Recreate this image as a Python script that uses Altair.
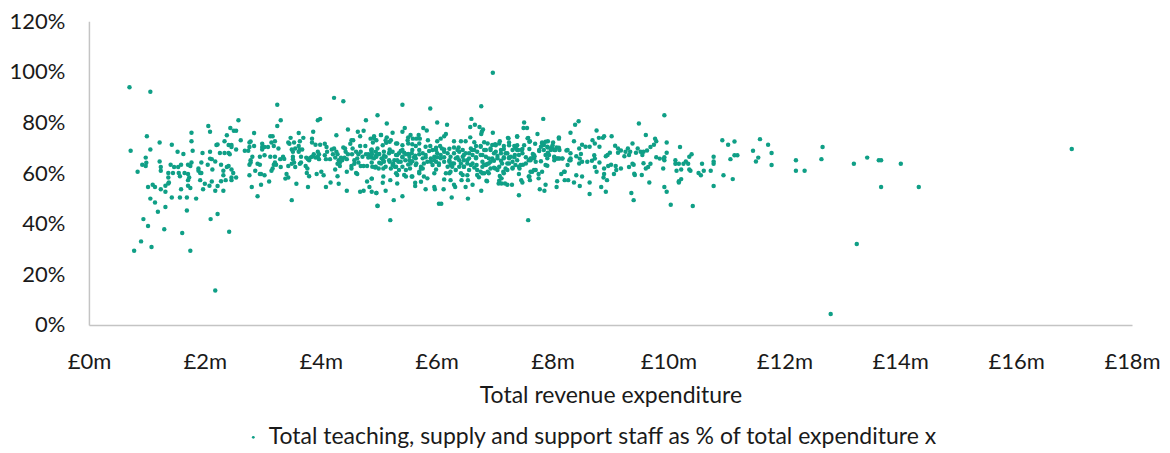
import altair as alt
import pandas as pd

left_points = [(0.70,93.9),(1.06,92.1),(0.72,68.8),(1.00,74.5),(1.06,69.3),(1.22,72.1),(1.43,71.2),(0.98,66.1),(0.99,64.1),(0.92,63.3),(0.98,62.8),(0.84,60.5),(1.22,64.6),(1.24,62.4),(1.24,60.9),(1.41,63.3),(1.47,62.4),(1.37,60),(1.45,60),(1.37,58.2),(1.54,62.4),(1.59,63.3),(1.55,60),(1.57,58.7),(1.53,68.4),(1.63,67.5),(1.77,75.9),(1.77,72.6),(1.79,68.8),(1.77,64.2),(1.71,63.3),(1.75,62.8),(1.65,60),(1.71,59.6),(1.73,58.2),(1.71,57.2),(1.02,54.5),(1.10,55.4),(1.14,54.5),(1.24,53.6),(1.32,52.6),(1.32,55),(1.37,55.9),(1.38,56.3),(1.59,53.6),(1.71,55),(1.75,54.1),(1.06,49.9),(1.14,48.4),(1.32,46.6),(1.43,50.3),(1.57,50.3),(1.69,50.3),(1.85,49.9),(1.69,45.2),(2.06,78.6),(2.09,76.3),(1.96,67.9),(2.09,68.4),(1.94,64.2),(2.09,65.7),(2.12,65.5),(2.18,64.6),(2.05,63.3),(1.89,61.8),(1.89,60.9),(1.94,60),(1.92,60),(2.13,61.4),(2.28,63.3),(2.32,60.9),(2.32,59.1),(2.41,62.8),(2.38,62.4),(2.46,61.4),(2.49,60),(2.46,58.2),(2.54,58.2),(2.46,57.2),(2.36,57.2),(2.28,56.8),(2.12,56.7),(1.92,57.2),(2.0,55.8),(2.08,55),(1.97,53.6),(2.18,53),(2.22,54.9),(2.32,53),(2.2,71.1),(2.22,71.3),(2.34,72.6),(2.38,74.9),(2.44,77.8),(2.50,76.7),(2.54,76.7),(2.58,80.9),(2.62,73),(2.41,71.1),(2.46,71.1),(2.46,70.3),(2.54,69.3),(2.26,67.9),(2.34,67.9),(2.41,67.9),(2.43,67.4)]

low_points = [(1.19,44.7),(2.10,41.8),(2.22,43.8),(0.94,41.8),(1.02,39.1),(1.30,37.8),(1.61,36.3),(2.42,36.8),(0.90,33),(1.08,30.8),(0.78,29.3),(1.75,29.3),(2.18,13.6)]

mid_left_points = [(2.69,68.8),(2.77,72.1),(2.79,72.5),(2.77,70.3),(2.75,68.8),(2.85,70.7),(2.85,75.8),(2.82,66.4),(2.79,65.1),(2.77,63.3),(2.79,64.2),(2.77,59.1),(2.87,60.9),(2.91,63.7),(2.95,63.3),(2.95,59.6),(2.97,59.6),(3.03,59.1),(2.81,54.5),(2.97,55.4),(3.11,56.7),(2.91,50.8),(2.95,66.4),(3.03,67),(2.99,71.6),(2.99,70.3),(2.99,69.3),(3.03,70.3),(3.09,70.3),(3.13,74.5),(3.17,74.5),(3.15,72.1),(3.21,72.6),(3.19,70.7),(3.27,69.7),(3.25,78.6),(3.31,80.9),(3.25,87),(3.13,66.4),(3.21,66.4),(3.30,65.5),(3.35,66.4),(3.37,65.6),(3.21,64.2),(3.19,63.3),(3.23,63.3),(3.31,62.4),(3.17,61.8),(3.15,60.9),(3.44,62.8),(3.41,59.6),(3.44,58.2),(3.39,57.8),(3.58,55.8),(3.50,49.3),(3.48,73.9),(3.44,72.1),(3.46,71.6),(3.54,72.1),(3.62,75.8),(3.70,73.9),(3.64,72.6),(3.50,69.3),(3.56,69.7),(3.62,70.7),(3.64,69.3),(3.68,69.3),(3.52,68.4),(3.62,68.4),(3.52,66.4),(3.52,65.5),(3.66,66.4),(3.54,64.2),(3.5,63.7),(3.56,62.4),(3.64,63.7),(3.66,64.2),(3.74,62.8),(3.77,61.8),(3.76,60),(3.80,58.7),(3.78,54.5),(3.93,59.6),(4.01,60.5),(4.05,59.1),(4.09,54.5),(4.17,56.3),(4.29,58.7),(4.31,55.8),(4.45,53),(4.25,61.4),(4.45,60.5),(4.61,60),(4.63,59.6),(4.80,56.7),(4.88,57.8),(4.84,54.5),(4.88,52.6),(4.96,52.1),(4.68,52.6),(4.74,53),(4.98,47),(3.87,76.3),(3.85,73.6),(3.85,72.1),(3.91,71.2),(3.99,71.2),(4.07,71.6),(4.10,70.3),(3.95,80.9),(3.99,81.4),(4.23,89.7),(4.39,88.4),(4.47,77.2),(4.27,74.9),(4.64,76.3),(4.74,76.7),(4.68,74.5),(4.78,80.9),(4.98,82.8),(4.53,73),(4.56,73),(4.51,71.6),(4.77,70.7),(4.68,70.7),(4.86,73.6),(4.92,74.5),(4.96,73),(4.90,72.1),(3.75,66.1),(3.78,65.5),(3.82,66.1),(3.80,65.1),(3.85,66.4),(3.88,67.4),(3.91,66.1),(3.95,66.4),(3.95,68.4),(3.97,67.4),(3.97,65.5),(4.07,67),(4.09,65.5),(4.16,65.5),(4.11,68.4),(4.19,69.3),(4.23,69.7),(4.27,68.4),(4.21,67.4),(4.29,67.4),(4.25,66.1),(4.35,66.1),(4.41,66.1),(4.45,65.5),(4.31,65.1),(4.33,64.2),(4.37,65.1),(4.33,62.8),(4.29,63.7),(4.39,70.1),(4.42,69.7),(4.43,68.4),(4.47,67.4),(4.55,69.7),(4.61,68.4),(4.54,67.4),(4.65,67.4),(4.69,68.4),(4.78,67.4),(4.82,67.4),(4.88,69.3),(4.88,68.4),(4.95,68.4),(4.96,66.4),(4.88,66.1),(4.82,66.1),(4.72,66.4),(4.63,65.8),(4.58,65.1),(4.65,64.2),(4.58,63.7),(4.53,62.8),(4.53,61.8),(4.69,62.8),(4.74,62.8),(4.80,62.8),(4.88,64.2),(4.94,62.4),(5.0,61.8)]

centre_sparse_points = [(6.97,99.6),(5.41,87),(5.89,85.5),(6.77,86.4),(5.14,79.6),(6.01,80),(6.18,79.1),(6.60,81.4),(6.58,78.2),(6.66,79.1),(6.74,78.2),(6.80,77.2),(6.78,76.3),(6.77,75.4),(6.97,75.9),(7.51,80),(7.50,77.8),(7.56,77.8),(7.84,81.4),(8.39,79.1),(8.45,80.5),(8.31,75.9),(8.76,76.8),(9.49,79.6),(9.93,82.8),(9.61,75),(9.02,74.5),(8.89,74.5),(8.87,73.9),(5.45,77.8),(5.41,76.3),(5.77,77.8),(5.83,76.8),(5.24,75.9),(5.04,75),(5.14,74.1),(5.55,75),(5.51,74.1),(5.59,73.6),(5.69,75),(5.65,73.6),(5.71,73.6),(5.85,73),(6.16,75.4),(6.13,74.5),(6.07,73.6),(6.01,72.6),(6.30,72.6),(6.42,72.6),(6.50,72.6),(6.58,74.1),(7.39,74.5),(7.23,73.9),(7.09,72.6),(7.74,75.4),(7.58,73.9),(7.61,72.6),(8.11,74.1),(8.11,73.6),(7.82,72.1),(7.92,72.6),(8.01,72.1),(8.37,72.6),(8.69,73),(8.80,73.9),(8.73,71.7),(8.81,70.4),(9.77,73.6),(9.79,72.6),(9.97,72.1),(9.75,71.2),(9.69,70.3),(9.38,71.7),(9.08,70.8),(8.51,71.2),(8.57,70.4),(8.64,70.4),(8.46,69.7),(8.24,68.9),(9.13,69.7),(9.18,68.9),(9.30,69.7),(9.47,69.7),(9.26,68.4),(9.34,68.4),(9.13,68),(8.99,68),(8.95,67.1),(8.92,66.6),(9.24,66.6),(9.32,67.1),(9.44,68),(9.52,68.4),(9.57,68.4),(9.63,68.9),(9.97,68),(9.55,67.1),(9.79,66.2),(9.85,65.7),(9.92,65.7),(9.93,66.2),(9.91,61.8),(9.93,54.5),(9.97,52.6),(9.67,56.3),(9.54,59.2),(9.41,59.7),(9.42,59.2),(9.36,52.1),(9.40,49.3),(8.92,52.6),(8.84,54.5),(8.64,51.7),(8.64,56.3),(8.47,54.9),(8.37,56.3),(8.07,54.5),(7.88,55.4),(7.78,53.6),(7.86,53),(7.42,51.2),(7.58,41.4),(5.20,41.4),(4.98,47.1),(5.26,49.3),(5.41,50.8),(5.12,53),(4.96,52.1),(6.04,47.9),(6.08,47.9),(6.26,50.3),(6.54,49.9),(6.77,53),(5.81,53.6),(5.96,54.5),(5.97,53.6),(6.12,53.6),(6.30,55.4),(6.32,54.5),(6.50,54.5),(6.62,55.4),(6.87,56.8),(7.09,58.8),(7.12,57.9),(7.08,57),(7.07,55.9),(7.12,55.9),(7.18,55.9),(7.22,55.4),(7.30,55.4),(7.46,57.2),(7.48,56.3),(7.42,59.6),(7.61,57.2),(7.59,58.6),(7.65,60.5),(7.71,61.2),(7.76,57.9),(7.76,59.6),(7.82,60.5),(8.08,56.8),(8.15,59.6),(8.21,60.5),(8.21,57.2),(8.27,57.2),(8.41,59.1),(8.51,58.6),(8.76,60.5),(8.73,62.4),(8.88,58.2),(8.94,57.2),(8.89,59.6),(8.89,61.8),(8.96,62.8),(9.01,63.3),(9.09,62.8),(9.06,59.6),(9.10,61.2),(9.18,61.8),(9.32,62.4),(9.38,63.7),(9.40,63.3),(9.57,63.9),(9.61,61.8),(9.65,62.4),(9.69,63.7),(8.31,65.1),(8.29,65.1),(8.41,66.6),(8.49,67.5),(8.47,65.7),(8.46,63.8),(8.51,64.5),(8.60,64.5),(8.68,64.9),(8.72,67),(8.73,65.7),(8.81,64.2),(8.08,65.7),(8.12,65.7),(8.17,65.7),(8.03,66.2),(7.91,62.9),(7.80,64.7),(7.88,67.1),(7.92,68),(8.03,69.1),(8.12,69.1),(8.07,70.1),(7.99,70.1),(7.92,70.1),(7.85,71.1),(7.70,71.6),(7.66,67.5),(7.77,68.7),(7.69,66.6),(7.59,65.1),(7.54,66.2),(7.65,65.9),(7.49,63.3),(7.43,61.8),(7.31,61.8),(7.22,61.2),(7.15,60.5),(7.01,61.8),(6.87,63.6)]

dense_band_points = [(4.87,69.1),(4.88,67.5),(4.95,66.7),(5.01,67.5),(5.07,71),(5.13,72),(5.19,72.4),(5.19,69.3),(5.09,66.7),(5.08,65.1),(5.01,64.1),(5.08,61.8),(4.94,62.2),(5.19,64.5),(5.27,65.1),(5.32,67.1),(5.38,68.7),(5.44,68),(5.51,67.5),(5.58,69.1),(5.64,70.7),(5.70,69.1),(5.76,67.8),(5.81,66.2),(5.61,66.2),(5.53,65.1),(5.41,66.2),(5.34,64.5),(5.28,62.5),(5.41,62.5),(5.54,61.8),(5.64,63.2),(5.73,61.8),(5.70,59.9),(5.58,58.6),(5.47,58.6),(5.32,59.2),(5.30,59.9),(5.20,57.2),(5.32,55.9),(5.07,56.2),(5.08,58.6),(4.88,57.8),(5.63,56.2),(5.63,54.9),(5.73,56.6),(5.78,58.6),(5.84,57.9),(5.32,71.7),(5.51,71.7),(5.58,71.4),(5.19,68.4),(5.89,70.7),(5.99,69.1),(6.06,70.7),(6.13,69.3),(6.22,69.6),(6.30,70.1),(6.38,70.1),(6.01,66.2),(5.96,65.1),(5.90,64.5),(6.04,63.8),(6.13,66.2),(6.22,65.1),(6.27,63.8),(6.36,66.2),(6.39,68.4),(6.47,67.1),(6.53,65.1),(6.61,69.1),(6.68,70.7),(6.65,72.2),(6.82,72.2),(6.76,70.7),(6.85,69.1),(6.79,67.1),(6.68,66.2),(6.59,63.2),(6.65,62.2),(6.47,62.5),(6.39,62.5),(6.24,63.2),(6.22,59.9),(6.16,59.9),(6.13,57.5),(6.24,57.2),(5.96,59.9),(5.99,61.4),(6.45,59.2),(6.53,59.1),(6.43,57.2),(6.54,57.2),(6.70,59.2),(6.79,59.9),(6.90,59.9),(6.82,63.3),(6.73,58.3),(6.96,71.1),(7.01,71.4),(6.93,69.1),(7.02,68.4),(7.11,69.1),(7.16,70.7),(7.25,72.1),(7.34,70.7),(7.39,69.1),(7.47,69.1),(7.19,67.8),(7.25,66.2),(7.16,66.2),(7.05,66.7),(6.99,64.9),(7.11,64.9),(7.25,63.8),(7.34,66.2),(7.39,65.1),(6.90,65.8),(6.93,64.5)]

dense_core_a = [(4.88,67.4),(4.92,65.8),(4.98,67.4),(5.05,65.8),(5.09,64.5),(5.12,66.4),(5.18,67.8),(5.24,68.4),(5.30,67.1),(5.35,67.8),(5.41,69.1),(5.47,67.4),(5.53,66.4),(5.57,67.8),(5.63,66.8),(5.70,67.4),(5.76,65.8),(5.81,67.1),(5.18,65.1),(5.25,63.8),(5.30,62.5),(5.38,64.5),(5.46,65.1),(5.51,63.4),(5.58,64.7),(5.65,63.8),(5.73,62.5),(5.04,63.8),(4.95,62.5),(5.12,62.5),(5.21,61.8),(5.35,61.2),(5.44,59.2),(5.57,58.6),(5.70,60.5),(5.76,61.8),(5.96,66.4),(6.01,67.8),(6.07,65.8),(5.99,64.5),(5.93,63.2),(6.04,63.2),(6.13,64.5),(6.19,67.8),(6.24,66.4),(6.30,67.8),(6.36,69.1),(6.22,64.5),(6.30,63.8),(6.39,65.1),(6.27,62.5),(6.19,62.5),(6.45,66.4),(6.50,67.8),(6.56,65.8),(6.62,67.1),(6.68,65.8),(6.53,63.8),(6.62,63.8),(6.69,63.2),(6.47,62.5),(6.70,68.4),(6.59,69.7),(6.45,69.1),(6.09,69.7),(5.99,70)]

dense_core_b = [(6.76,70.4),(6.82,69.1),(6.76,67.1),(6.85,66.4),(6.79,64.5),(6.93,69.7),(6.99,67.8),(6.96,65.8),(7.05,65.8),(7.11,67.8),(7.16,69.5),(7.22,67.8),(7.25,65.8),(7.16,65.8),(7.13,63.8),(7.22,63.8),(7.31,64.5),(7.35,67.1),(7.42,67.1),(7.48,67.8),(7.41,69.1),(7.51,71),(7.60,69.5),(7.54,63.8),(7.42,62.5),(7.31,62.1),(7.19,61.8),(7.08,62.5),(6.99,62.1),(6.90,63.8),(7.62,65.8),(7.68,65.8),(7.82,71.7),(7.91,70.4),(8.0,71),(8.05,69.1),(8.11,70),(7.97,69.1),(7.88,72.4),(8.03,66.4),(8.11,65.8),(8.17,65.8),(6.76,60.5),(6.82,59.9),(6.88,60.5),(6.86,57)]

dense_core_c = [(7.31,69.1),(7.37,69.7),(7.25,71),(7.08,71.7),(7.02,71),(6.88,71.7),(7.24,73.7),(7.39,74.3),(7.57,73.7),(7.6,72.4),(7.48,69.5),(7.39,71),(7.28,66.4),(7.36,63.2),(7.45,63.2),(7.62,65.1),(7.71,64.5),(7.68,67.1),(7.77,69.1),(7.80,70.4),(7.85,69.1),(7.94,67.1),(7.91,65.8),(8.03,65.1),(8.08,65.8),(8.26,69.1),(8.31,65.8),(8.31,67.8),(8.26,63.2),(8.2,60.5),(7.62,60.5),(7.6,58.6),(7.68,61.2),(7.88,63.2),(6.79,62.5),(6.85,63.2),(6.93,61.8),(7.05,61.2),(7.16,59.9),(4.92,73.7),(5.04,75),(5.12,73),(5.21,73),(5.30,71.7),(5.41,71),(5.50,73),(5.70,71.7),(5.81,70.4),(5.87,68.7),(5.90,65.8),(5.93,69.1),(4.98,69.7),(5.09,68.4),(4.89,62.5),(5.47,61.2),(5.24,63.2),(5.32,65.1),(5.41,66.4),(5.55,63.8),(5.64,65.8),(5.78,63.8),(5.84,64.5),(6.07,67.1),(6.13,68.4),(6.33,65.8),(6.42,63.8),(6.47,65.1),(6.56,67.8),(6.65,69.1),(6.24,60.5),(6.33,61.2),(6.42,59.9),(6.56,61.2),(6.70,61.2)]

right_points = [(9.93,65.1),(10.04,47.5),(10.42,47),(10.2,70.3),(10.40,67.4),(10.36,66.4),(10.12,65.1),(10.30,64.6),(10.12,63.7),(10.18,63.7),(10.26,63.7),(10.34,63.7),(10.14,60.9),(10.22,61.4),(10.36,61.4),(10.38,60.9),(10.22,57.6),(10.18,56.8),(10.18,56.3),(10.52,60),(10.56,59.1),(10.61,60.9),(10.73,60.9),(10.58,63.7),(10.78,66.4),(10.78,64.6),(10.78,63.7),(10.95,59.1),(11.11,57.6),(10.78,54.9),(10.93,73),(11.03,71.2),(11.14,72.5),(11.07,65.5),(11.14,67),(11.19,67),(11.46,68.8),(11.58,73.4),(11.72,71.2),(11.78,67.9),(11.55,66.1),(11.51,64.6),(11.78,63.2),(12.20,65.1),(12.64,65.5),(12.66,70.3),(12.20,60.9),(12.35,60.9),(13.20,63.7),(13.43,66.1),(13.63,65.1),(13.67,65.1),(14.01,63.7),(13.67,54.5),(14.32,54.5),(16.96,69.5),(12.80,4.3),(13.25,32)]

series_name = "Total teaching, supply and support staff as % of total expenditure x"
x_ticks = [0, 2, 4, 6, 8, 10, 12, 14, 16, 18]
y_ticks = [0, 20, 40, 60, 80, 100, 120]
FONT = "Lato"
INK = "#1a1a1a"
GREY = "#c4c4c4"
GREEN = "#0f9f86"

rows = (left_points + low_points + mid_left_points + centre_sparse_points + dense_band_points
        + dense_core_a + dense_core_b + dense_core_c + right_points)
df = pd.DataFrame(rows, columns=["revenue", "share"])
df["series"] = series_name

chart = (
    alt.Chart(df)
    .mark_circle(size=20, opacity=1)
    .encode(
        x=alt.X(
            "revenue:Q",
            scale=alt.Scale(domain=[0, 18], nice=False, zero=False),
            axis=alt.Axis(
                values=x_ticks, labelExpr="'£' + datum.value + 'm'", title="Total revenue expenditure",
                grid=False, ticks=False, domainColor=GREY, domainWidth=1.5,
                labelFont=FONT, labelFontSize=22, labelColor=INK, labelPadding=27,
                titleFont=FONT, titleFontSize=23, titleFontWeight="normal", titleColor=INK, titlePadding=12,
                labelFlush=False,
            ),
        ),
        y=alt.Y(
            "share:Q",
            scale=alt.Scale(domain=[0, 120], nice=False),
            axis=alt.Axis(
                values=y_ticks, labelExpr="datum.value + '%'", title=None,
                grid=False, ticks=False, domainColor=GREY, domainWidth=1.5,
                labelFont=FONT, labelFontSize=22, labelColor=INK, labelPadding=24,
            ),
        ),
        color=alt.Color(
            "series:N",
            scale=alt.Scale(range=[GREEN]),
            legend=alt.Legend(
                orient="none", legendX=153, legendY=405, title=None, symbolSize=8, symbolType="circle",
                labelFont=FONT, labelFontSize=23, labelColor=INK, labelLimit=800, labelOffset=4,
            ),
        ),
    )
    .properties(
        width=1044,
        height=304,
        padding={"left": 81, "top": 13, "right": 30, "bottom": 128},
        autosize=alt.AutoSizeParams(type="none"),
    )
    .configure_view(stroke=None)
)

chart.save("out.html", embed_options={"renderer": "svg", "actions": False})
